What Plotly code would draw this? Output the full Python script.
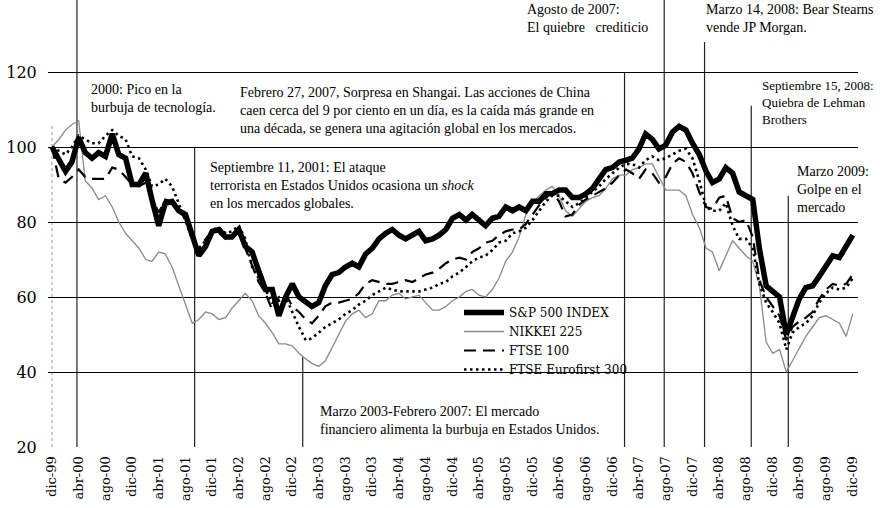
import pandas as pd
import plotly.graph_objects as go

# monthly index values, dic-99 = 100
months = pd.date_range("1999-12-01", periods=121, freq="MS")

sp500 = [100, 97, 93.5, 96, 102.5, 98.5, 97, 98.5, 97.5, 103.5, 98, 97,
         90, 90, 93, 86, 79, 85, 85.5, 83, 82, 76.5, 71, 73.5,
         77.5, 78, 76, 76, 78, 73.5, 72, 67, 62, 62, 55, 60,
         63.5, 60, 58.5, 57.5, 58.5, 63, 66, 66.5, 68, 69, 68, 71.5,
         73, 75.5, 77, 78, 76.5, 75.5, 76.5, 77.5, 75, 75.5, 76.5, 78,
         81, 82, 80.5, 82, 80.5, 79, 81, 81.5, 84, 83, 84, 83,
         85.5, 85.5, 87.5, 87.5, 88.5, 88.5, 86.5, 86.5, 87.5, 89, 91.5, 94,
         94.5, 96, 96.5, 97, 99.5, 103.5, 102, 99.5, 100.5, 104, 105.5, 104.5,
         101, 98, 93.5, 90.5, 91.5, 94.5, 93, 88, 87, 86, 73, 63,
         61.5, 60, 50, 55, 59.5, 62.5, 63, 65.5, 68.5, 71, 70.5, 73.5, 76.5]

nikkei = [100, 102, 104.5, 106, 107, 91, 89, 86, 87, 84, 80, 77,
          75, 73, 70, 69.5, 72, 71.5, 68, 63, 58, 53, 54, 56,
          55.5, 54, 54.5, 57, 59, 61, 59, 55, 53, 50.5, 47.5, 47.5,
          47, 45, 43.5, 42.3, 41.5, 43, 46.5, 50, 53.5, 55.5, 56.5, 54.5,
          55.5, 59, 59, 60.5, 61, 59.5, 60, 60.5, 58.5, 56.5, 56.5, 57.5,
          59, 60, 61.5, 62, 60.5, 60, 62, 65, 69.5, 72, 76, 82,
          85, 87, 88.5, 89.5, 87, 83, 81.5, 83.5, 85.5, 86.5, 87, 89,
          91.5, 92.5, 92.5, 94, 94.5, 95.5, 95.5, 92, 88.5, 88.5, 88.5, 87,
          82, 78.5, 73, 72, 67, 71, 75, 73, 71, 69.5, 63, 48,
          45, 46, 40, 43, 46.5, 49.5, 52, 54.5, 55, 54, 53, 49.5, 55.5]

ftse100 = [100, 91.5, 90.5, 92, 94, 92, 91.5, 91.5, 91.5, 94.5, 94, 92,
           90, 89.5, 90.5, 86.5, 82.5, 86, 85.5, 83, 81, 75, 72.5, 75.5,
           77.5, 77, 75.5, 77, 77.5, 73, 68.5, 64, 61, 56.5, 60, 61,
           57.5, 56, 54, 53, 55, 57.5, 58.5, 58.5, 59, 59.5, 61, 63.5,
           64.5, 64, 63.5, 63.5, 64, 64.5, 64, 65, 66, 66.5, 67.5, 69,
           70, 70.5, 70, 72, 73, 74.5, 75, 76.5, 77.5, 78, 78, 79.5,
           82, 84.5, 86.5, 88, 85.5, 81.5, 82, 84.5, 86, 87, 88, 89,
           90.5, 92.5, 94, 93, 91.5, 94, 93, 90.5, 92, 95.5, 97, 96,
           93, 88, 84, 83.5, 86.5, 87, 81, 80, 80.5, 76, 64.5, 60,
           57.5, 55, 48.5, 52, 53.5, 54.5, 56, 59.5, 62, 63.5, 63, 63.5, 66]

eurofirst = [100, 99, 98, 100, 103, 102, 101, 101, 103, 104.5, 103, 102,
             97.5, 97, 94, 89.5, 90, 91.5, 89.5, 85, 80, 75.5, 73, 75,
             78, 78.5, 77, 77.5, 79, 75.5, 68, 65, 62, 58.5, 59, 60,
             56, 52, 48.5, 49, 50.5, 52, 53, 54, 55.5, 56.5, 58, 59,
             60.5, 61.5, 62.5, 62, 61.5, 61.5, 61.5, 61.5, 62, 62.5, 63.5, 64,
             65.5, 66.5, 68, 69.5, 70.5, 71, 72.5, 74.5, 75, 77, 77.5, 78.5,
             80.5, 83, 85.5, 87, 87, 85.5, 84, 85, 86.5, 88, 89.5, 91.5,
             93, 94.5, 95.5, 95.5, 94.5, 96.5, 97.5, 96.5, 97, 98, 99, 99.5,
             97, 91, 84, 83, 83, 85, 79, 75.5, 75.5, 73, 63.5, 58.5,
             56, 53, 46, 50.5, 52, 53, 55, 58.5, 61, 62.5, 62, 62.5, 65]

tick_dates = months[::4]
tick_text = ["dic-99", "abr-00", "ago-00", "dic-00", "abr-01", "ago-01", "dic-01",
             "abr-02", "ago-02", "dic-02", "abr-03", "ago-03", "dic-03", "abr-04",
             "ago-04", "dic-04", "abr-05", "ago-05", "dic-05", "abr-06", "ago-06",
             "dic-06", "abr-07", "ago-07", "dic-07", "abr-08", "ago-08", "dic-08",
             "abr-09", "ago-09", "dic-09"]

# event markers: date, top of the line (index value)
event_dates = ["2000-03-24", "2001-09-12", "2003-01-18", "2007-01-25",
               "2007-07-25", "2008-01-25", "2008-08-25", "2009-02-10"]
event_tops = [139.2, 100, 44, 120, 139.2, 128, 111, 87]

serif = "DejaVu Serif"
text_serif = "Liberation Serif"

fig = go.Figure()

fig.add_trace(go.Scatter(x=months, y=nikkei, mode="lines", name="NIKKEI 225",
                         line=dict(color="#8a8a8a", width=1.3), legendrank=2))
fig.add_trace(go.Scatter(x=months, y=ftse100, mode="lines", name="FTSE 100",
                         line=dict(color="black", width=2.2, dash="12px,7px"), legendrank=3))
fig.add_trace(go.Scatter(x=months, y=eurofirst, mode="lines", name="FTSE Eurofirst 300",
                         line=dict(color="black", width=2.6, dash="2.5px,3.5px"), legendrank=4))
fig.add_trace(go.Scatter(x=months, y=sp500, mode="lines", name="S&P 500 INDEX",
                         line=dict(color="black", width=5.5), legendrank=1))

# vertical event lines
for d, top in zip(event_dates, event_tops):
    fig.add_shape(type="line", xref="x", yref="y", x0=d, x1=d, y0=20, y1=top,
                  line=dict(color="#222222", width=1.2), layer="below")

# faint left axis
fig.add_shape(type="line", xref="x", yref="y", x0=months[0], x1=months[0], y0=20, y1=106,
              line=dict(color="#9a9a9a", width=1, dash="dot"), layer="below")


def px(x, y):
    # pixel position -> paper coords of the plot area
    return (x - 48) / 810, 1 - y / 447


notes = [
    (89, 80, 14, "2000: Pico en la<br>burbuja de tecnología."),
    (238, 83, 14, "Febrero 27, 2007, Sorpresa en Shangai. Las acciones de China<br>"
                  "caen cerca del 9 por ciento en un día, es la caída más grande en<br>"
                  "una década, se genera una agitación global en los mercados."),
    (208, 158, 14, "Septiembre 11, 2001: El ataque<br>"
                   "terrorista en Estados Unidos ocasiona un <i>shock</i><br>"
                   "en los mercados globales."),
    (525, 0, 14, "Agosto de 2007:<br>El quiebre &nbsp; crediticio"),
    (704, 0, 14, "Marzo 14, 2008: Bear Stearns<br>vende JP Morgan."),
    (760, 76, 13, "Septiembre 15, 2008:<br>Quiebra de Lehman<br>Brothers"),
    (795, 162, 14, "Marzo 2009:<br>Golpe en el<br>mercado"),
    (318, 402, 14, "Marzo 2003-Febrero 2007: El mercado<br>"
                   "financiero alimenta la burbuja en Estados Unidos."),
]
for nx, ny, fs, txt in notes:
    ax, ay = px(nx, ny)
    fig.add_annotation(x=ax, y=ay, xref="paper", yref="paper", text=txt,
                       showarrow=False, xanchor="left", yanchor="top", align="left",
                       font=dict(family=text_serif, size=fs, color="black"))

lx, ly = px(459, 298)
fig.update_layout(
    width=880, height=508,
    margin=dict(l=48, r=22, t=0, b=61),
    plot_bgcolor="white", paper_bgcolor="white",
    showlegend=True,
    legend=dict(x=lx, y=ly, xanchor="left", yanchor="top", bgcolor="rgba(0,0,0,0)",
                font=dict(family=serif, size=12, color="black"), itemwidth=40,
                tracegroupgap=0),
    font=dict(family=serif, color="black"),
)

fig.update_xaxes(
    range=["1999-11-13", "2009-12-25"],
    tickvals=tick_dates, ticktext=tick_text, tickangle=-90,
    tickfont=dict(family=serif, size=13, color="black"),
    showgrid=False, zeroline=False, showline=False,
    ticks="outside", ticklen=3, tickcolor="white", automargin=False,
)

fig.update_yaxes(
    range=[20, 139.2],
    tickvals=[20, 40, 60, 80, 100, 120],
    tickfont=dict(family=serif, size=16, color="black"),
    showgrid=True, gridcolor="black", gridwidth=1,
    zeroline=False, showline=False,
    ticks="outside", ticklen=7, tickcolor="white", automargin=False,
)

# page body has a default 8px margin; drop it so the chart fills the window
fig.write_html("out.html", config={"displayModeBar": False},
               post_script="document.body.style.margin='0px';")
